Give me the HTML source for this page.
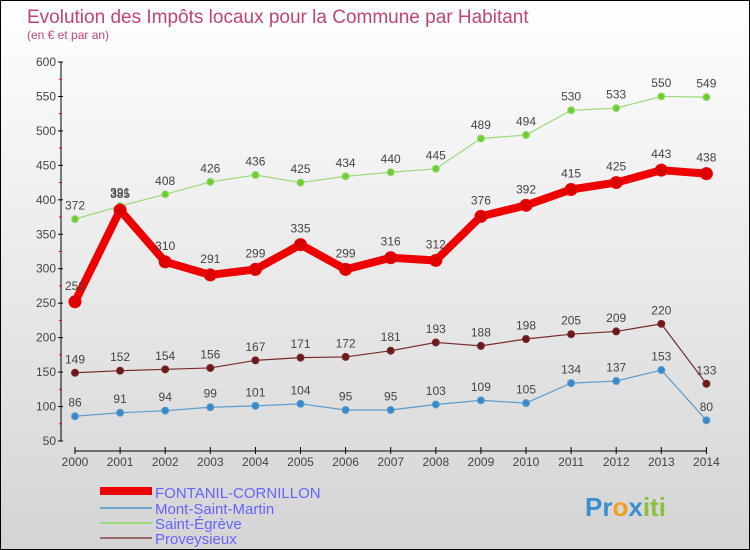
<!DOCTYPE html>
<html><head><meta charset="utf-8"><style>
body{margin:0}
#wrap{position:relative;width:748px;height:548px;border:1px solid #000;background:linear-gradient(#fff,#d4d4d4);font-family:"Liberation Sans",sans-serif;overflow:hidden}
</style></head><body>
<div id="wrap">
<svg id="svg" width="748" height="548" xmlns="http://www.w3.org/2000/svg" style="position:absolute;left:0;top:0">
<text x="26" y="22" font-size="19" fill="#c0466e">Evolution des Impôts locaux pour la Commune par Habitant</text>
<text x="26" y="38" font-size="12" fill="#c0466e">(en € et par an)</text>
<g id="axes"></g><g id="series"></g>
<g font-size="15" fill="#6464ff">
<rect x="99" y="486" width="52" height="8" fill="#ee0000"/>
<text x="154" y="497">FONTANIL-CORNILLON</text>
<rect x="99" y="506" width="52" height="2" fill="#6aa6d0"/>
<text x="154" y="513">Mont-Saint-Martin</text>
<rect x="99" y="521" width="52" height="2" fill="#9ada78"/>
<text x="154" y="528">Saint-Égrève</text>
<rect x="99" y="536" width="52" height="2" fill="#9a6a6a"/>
<text x="154" y="543">Proveysieux</text>
</g>
<text x="584" y="515" font-size="26" font-weight="bold"><tspan fill="#3a8fd0">Pr</tspan><tspan fill="#f0a020">o</tspan><tspan fill="#3a8fd0">x</tspan><tspan fill="#8ac040">iti</tspan></text>
</svg>
</div>
<script>
const years=[2000,2001,2002,2003,2004,2005,2006,2007,2008,2009,2010,2011,2012,2013,2014];
const yTicks=[50,100,150,200,250,300,350,400,450,500,550,600];
const fontanil=[252,385,310,291,299,335,299,316,312,376,392,415,425,443,438];
const montSaintMartin=[86,91,94,99,101,104,95,95,103,109,105,134,137,153,80];
const saintEgreve=[372,391,408,426,436,425,434,440,445,489,494,530,533,550,549];
const proveysieux=[149,152,154,156,167,171,172,181,193,188,198,205,209,220,133];
const NS="http://www.w3.org/2000/svg";
const X=i=>74+i*45.1;
const Y=v=>440-(v-50)*379/550;
function mk(tag,attrs,parent){const e=document.createElementNS(NS,tag);for(const k in attrs)e.setAttribute(k,attrs[k]);parent.appendChild(e);return e;}
const ax=document.getElementById('axes');
let l=mk('line',{x1:60,y1:Y(600),x2:60,y2:Y(50),stroke:'#000'},ax);


yTicks.forEach(t=>{
  mk('line',{x1:57,y1:Y(t),x2:62,y2:Y(t),stroke:'#000'},ax);
  if(t<600)mk('line',{x1:58,y1:Y(t+25),x2:61,y2:Y(t+25),stroke:'#f00'},ax);
  const tx=mk('text',{x:55,y:Y(t)+4,'font-size':12,'text-anchor':'end',fill:'#444'},ax);
  tx.textContent=t;
  
  
});
l=mk('line',{x1:X(0),y1:450,x2:X(14),y2:450,stroke:'#000'},ax);


years.forEach((yr,i)=>{
  mk('line',{x1:X(i),y1:446,x2:X(i),y2:453,stroke:'#000'},ax);
  const tx=mk('text',{x:X(i),y:465,'font-size':12,'text-anchor':'middle',fill:'#444'},ax);
  tx.textContent=yr;
  
  
});
const sg=document.getElementById('series');
function series(name,vals,color,dot,w,r){
  const g=mk('g',{},sg);
  
  
  const p=mk('polyline',{points:vals.map((v,i)=>X(i)+','+Y(v)).join(' '),fill:'none',stroke:color,'stroke-width':w,'stroke-linejoin':'round'},g);
  
  
  vals.forEach((v,i)=>{
    const c=mk('circle',{cx:X(i),cy:Y(v),r:r,fill:dot,stroke:color,'stroke-width':1},g);
    
    
    const t=mk('text',{x:X(i),y:Y(v)-(r+6),'font-size':12,'text-anchor':'middle',fill:'#444'},g);
    t.textContent=v;
    
    
  });
}
series('proveysieux',proveysieux,'#7a2a2a','#6a1a1a',1.2,3.5);
series('mont-saint-martin',montSaintMartin,'#5a9ccc','#3a88cc',1.2,3.5);
series('saint-egreve',saintEgreve,'#9ada78','#70cc30',1.2,3.5);
series('fontanil',fontanil,'#ee0000','#dd0000',8,6);
</script>
</body></html>
